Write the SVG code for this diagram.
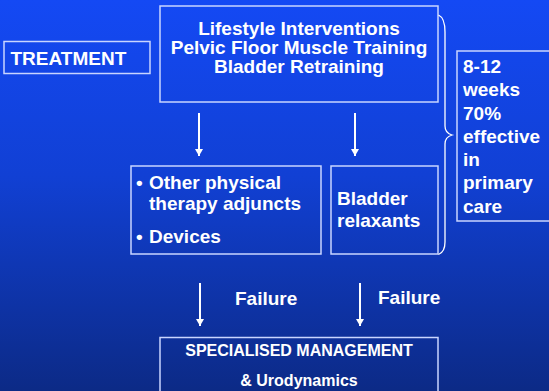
<svg xmlns="http://www.w3.org/2000/svg" width="549" height="391" viewBox="0 0 549 391">
<defs>
<linearGradient id="bg" x1="0" y1="0" x2="0" y2="1">
<stop offset="0" stop-color="#1449f4"/>
<stop offset="0.45" stop-color="#1140d4"/>
<stop offset="1" stop-color="#0c2a86"/>
</linearGradient>
<marker id="ah" viewBox="0 0 7 8" refX="7" refY="4" markerWidth="7" markerHeight="8" markerUnits="userSpaceOnUse" orient="auto">
<path d="M0,0 L7,4 L0,8 Z" fill="#ffffff"/>
</marker>
</defs>
<style>
.box{fill:none;stroke:#c9d5ff;stroke-width:1.5}
.t{font-family:"Liberation Sans",Arial,sans-serif;font-weight:bold;fill:#ffffff}
.t19{font-size:19px}
.t16{font-size:16px}
.c{text-anchor:middle}
.arr{stroke:#ffffff;stroke-width:2;fill:none}
</style>
<rect x="0" y="0" width="549" height="391" fill="url(#bg)"/>
<g id="treatment">
<rect class="box" x="4" y="41.5" width="146" height="32"/>
<text class="t t19" x="10.5" y="65">TREATMENT</text>
</g>
<g id="lifestyle">
<rect class="box" x="160" y="6" width="278" height="96"/>
<text class="t t19 c" x="299" y="35">Lifestyle Interventions</text>
<text class="t t19 c" x="299" y="54">Pelvic Floor Muscle Training</text>
<text class="t t19 c" x="299" y="73">Bladder Retraining</text>
</g>
<g id="adjuncts">
<rect class="box" x="131" y="166" width="190" height="88"/>
<text class="t t19" x="136" y="189">•</text>
<text class="t t19" x="149" y="189">Other physical</text>
<text class="t t19" x="149" y="210">therapy adjuncts</text>
<text class="t t19" x="136" y="243">•</text>
<text class="t t19" x="149" y="243">Devices</text>
</g>
<g id="relaxants">
<rect class="box" x="331" y="166" width="107" height="88"/>
<text class="t t19" x="337" y="205">Bladder</text>
<text class="t t19" x="337" y="227">relaxants</text>
</g>
<g id="effect">
<rect class="box" x="457" y="51" width="100" height="170"/>
<text class="t t19" x="463" y="73">8-12</text>
<text class="t t19" x="463" y="96">weeks</text>
<text class="t t19" x="463" y="120">70%</text>
<text class="t t19" x="463" y="143">effective</text>
<text class="t t19" x="463" y="166">in</text>
<text class="t t19" x="463" y="189">primary</text>
<text class="t t19" x="463" y="213">care</text>
</g>
<g id="specialised">
<rect class="box" x="160" y="337.5" width="278" height="60"/>
<text class="t t16 c" x="299" y="356">SPECIALISED MANAGEMENT</text>
<text class="t t16 c" x="299" y="386">&amp; Urodynamics</text>
</g>
<g id="connectors">
<line class="arr" x1="199" y1="113" x2="199" y2="156" marker-end="url(#ah)"/>
<line class="arr" x1="355" y1="113" x2="355" y2="156" marker-end="url(#ah)"/>
<line class="arr" x1="200" y1="283" x2="200" y2="326" marker-end="url(#ah)"/>
<line class="arr" x1="360" y1="283" x2="360" y2="326" marker-end="url(#ah)"/>
<path d="M438.5,15 Q445,18 445,32 L445,126 Q445,133 452,135 Q445,137 445,144 L445,242 Q445,252 438.5,254.5" fill="none" stroke="#ffffff" stroke-width="1.3"/>
<text class="t t19" x="235" y="305">Failure</text>
<text class="t t19" x="378" y="303.5">Failure</text>
</g>
</svg>
